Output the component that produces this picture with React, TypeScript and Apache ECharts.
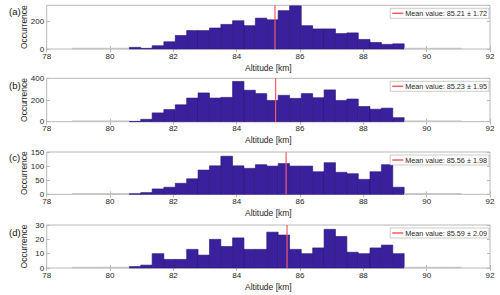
import React, { useEffect, useRef } from "react";
import * as echarts from "echarts";

// Histogram bin edges (km)
const binEdges = [
  78.8, 79.16, 79.52, 79.89, 80.25, 80.61, 80.97, 81.33, 81.7, 82.06, 82.42, 82.78,
  83.14, 83.5, 83.87, 84.23, 84.59, 84.95, 85.31, 85.67, 86.04, 86.4, 86.76, 87.12,
  87.48, 87.84, 88.21, 88.57, 88.93, 89.29, 89.65, 90.01, 90.38, 90.74, 91.1,
];

// Counts per bin for each panel
const countsA = [
  0, 0, 0, 0, 0, 12, 5, 24, 53, 99, 135, 135, 154, 180, 207, 171, 226, 214, 281, 316,
  171, 147, 147, 113, 118, 70, 48, 34, 38, 0, 0, 0, 0, 0,
];
const countsB = [
  0, 0, 0, 0, 0, 3, 22, 81, 112, 156, 218, 265, 218, 224, 371, 290, 259, 196, 243, 215,
  259, 221, 293, 196, 209, 140, 115, 125, 37, 0, 0, 0, 0, 0,
];
const countsC = [
  0, 0, 0, 0, 0, 2, 6, 19, 25, 39, 55, 86, 101, 135, 101, 92, 105, 100, 109, 100, 100,
  80, 112, 78, 73, 53, 80, 105, 25, 0, 0, 0, 0, 0,
];
const countsD = [
  0, 0, 0, 0, 0, 1, 2, 10, 6, 6, 13, 9, 20, 15, 21, 13, 13, 25, 23, 13, 10, 14, 27, 22,
  11, 10, 14, 16, 10, 0, 0, 0, 0, 0,
];

const panelLabels = ["(a)", "(b)", "(c)", "(d)"];
const meanValues = [85.21, 85.23, 85.56, 85.59];
const stdValues = [1.72, 1.95, 1.98, 2.09];
const yMaxes = [320, 400, 150, 30];
const yIntervals = [200, 200, 50, 10];
const xMin = 78;
const xMax = 92;
const xInterval = 2;

const allCounts = [countsA, countsB, countsC, countsD];

// layout (pixels)
const gridTops = [5.3, 78.3, 152, 225];
const gridHeights = [43.7, 43.4, 42.3, 43];
const gridLeft = 46.7;
const gridRight = 10;
const FONT = "'Liberation Sans', Arial, Helvetica, sans-serif";
const TEXT = "#262626";
const MEAN_COLOR = "#ef5a6a";

export default function App() {
  const ref = useRef<HTMLDivElement>(null);

  useEffect(() => {
    if (!ref.current) return;
    const chart = echarts.init(ref.current, undefined, { renderer: "svg" });

    const grids: any[] = [];
    const xAxes: any[] = [];
    const yAxes: any[] = [];
    const series: any[] = [];
    const legends: any[] = [];
    const graphics: any[] = [];

    const tickStyle = { show: true, inside: true, length: 3, lineStyle: { color: "#b8b8b8" } };

    allCounts.forEach((counts, i) => {
      grids.push({
        left: gridLeft,
        right: gridRight,
        top: gridTops[i],
        height: gridHeights[i],
        show: true,
        borderColor: "#b8b8b8",
        borderWidth: 1,
        backgroundColor: "#ffffff",
      });
      // bottom x axis
      xAxes.push({
        type: "value",
        gridIndex: i,
        min: xMin,
        max: xMax,
        interval: xInterval,
        position: "bottom",
        axisLine: { show: false },
        axisTick: tickStyle,
        splitLine: { show: false },
        axisLabel: { fontSize: 8, color: TEXT, fontFamily: FONT, margin: 3 },
        name: "Altitude [km]",
        nameLocation: "middle",
        nameGap: 14,
        nameMoveOverlap: false,
        nameTextStyle: { fontSize: 8.5, color: TEXT, fontFamily: FONT },
      });
      // top x axis (ticks only)
      xAxes.push({
        type: "value",
        gridIndex: i,
        min: xMin,
        max: xMax,
        interval: xInterval,
        position: "top",
        axisLine: { show: false },
        axisTick: tickStyle,
        splitLine: { show: false },
        axisLabel: { show: false },
      });
      yAxes.push({
        type: "value",
        gridIndex: i,
        min: 0,
        max: yMaxes[i],
        interval: yIntervals[i],
        position: "left",
        axisLine: { show: false },
        axisTick: tickStyle,
        splitLine: { show: false },
        axisLabel: {
          fontSize: 8,
          color: TEXT,
          fontFamily: FONT,
          margin: 2.5,
          showMaxLabel: yMaxes[i] % yIntervals[i] === 0,
        },
        name: "Occurrence",
        nameLocation: "middle",
        nameGap: 18,
        nameMoveOverlap: false,
        nameTextStyle: { fontSize: 8.5, color: TEXT, fontFamily: FONT },
      });
      yAxes.push({
        type: "value",
        gridIndex: i,
        min: 0,
        max: yMaxes[i],
        interval: yIntervals[i],
        position: "right",
        axisLine: { show: false },
        axisTick: tickStyle,
        splitLine: { show: false },
        axisLabel: { show: false },
      });

      const data = counts.map((c, k) => [binEdges[k], binEdges[k + 1], c]);
      series.push({
        type: "custom",
        xAxisIndex: i * 2,
        yAxisIndex: i * 2,
        encode: { x: [0, 1], y: 2 },
        data,
        z: 2,
        renderItem: (params: any, api: any) => {
          const x0 = api.value(0);
          const x1 = api.value(1);
          const v = api.value(2);
          const pTop = api.coord([x0, v]);
          const pBot = api.coord([x1, 0]);
          if (v === 0) {
            return {
              type: "line",
              shape: { x1: pTop[0], y1: pBot[1] - 0.5, x2: pBot[0], y2: pBot[1] - 0.5 },
              style: { stroke: "#c4c4c4", lineWidth: 1.5 },
            };
          }
          return {
            type: "rect",
            shape: {
              x: pTop[0],
              y: pTop[1],
              width: pBot[0] - pTop[0],
              height: pBot[1] - pTop[1],
            },
            style: { fill: "#3b209e", stroke: "#2a1572", lineWidth: 0.6 },
          };
        },
      });

      const meanName = `Mean value: ${meanValues[i].toFixed(2)} ± ${stdValues[i].toFixed(2)}`;
      series.push({
        type: "line",
        name: meanName,
        xAxisIndex: i * 2,
        yAxisIndex: i * 2,
        data: [
          [meanValues[i], 0],
          [meanValues[i], yMaxes[i]],
        ],
        symbol: "none",
        showSymbol: false,
        lineStyle: { color: MEAN_COLOR, width: 1.2 },
        itemStyle: { color: MEAN_COLOR },
        z: 5,
      });

      legends.push({
        data: [{ name: meanName, icon: "rect" }],
        right: 11,
        top: gridTops[i] + 3,
        orient: "horizontal",
        backgroundColor: "#ffffff",
        borderColor: "#a8a8a8",
        borderWidth: 0.6,
        padding: [1, 2, 1, 2],
        itemWidth: 11,
        itemHeight: 1.5,
        itemGap: 0,
        itemStyle: { color: MEAN_COLOR, borderWidth: 0 },
        lineStyle: { width: 0 },
        textStyle: { fontSize: 7.25, color: TEXT, fontFamily: FONT, lineHeight: 8, padding: [0, 0, 0, -3] },
        selectedMode: false,
      });

      graphics.push({
        type: "text",
        left: 9,
        top: gridTops[i] + [1.5, 2, 0.5, 2][i],
        style: {
          text: panelLabels[i],
          fontSize: 9.5,
          fill: "#111111",
          fontFamily: FONT,
        },
      });
    });

    chart.setOption({
      animation: false,
      backgroundColor: "#ffffff",
      grid: grids,
      xAxis: xAxes,
      yAxis: yAxes,
      series,
      legend: legends,
      graphic: graphics,
    });

    return () => chart.dispose();
  }, []);

  return (
    <div
      ref={ref}
      style={{ position: "fixed", left: 0, top: 0, width: 500, height: 295, background: "#fff" }}
    />
  );
}
